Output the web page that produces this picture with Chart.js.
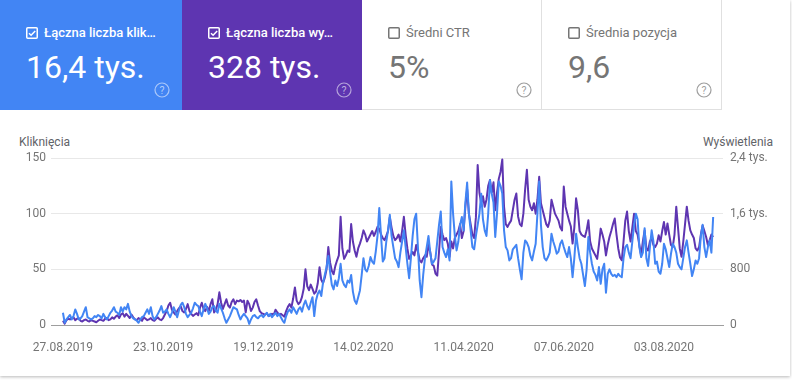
<!DOCTYPE html>
<html><head><meta charset="utf-8">
<script src="https://cdn.jsdelivr.net/npm/chart.js@4/dist/chart.umd.min.js"></script>
<style>
html,body{margin:0;padding:0;background:#fff;width:792px;height:380px;overflow:hidden;font-family:Roboto,"Noto Sans",Arial,sans-serif;}
#card{position:absolute;left:0;top:0;width:790px;height:376px;background:#fff;box-shadow:0 1px 3px rgba(0,0,0,.28);}
.tile{position:absolute;top:0;height:110px;box-sizing:border-box;}
.t1{left:0;width:182px;background:#4285f4;color:#fff;}
.t2{left:182px;width:180px;background:#5e35b1;color:#fff;}
.t3{left:362px;width:180px;border-right:1px solid #e0e0e0;border-bottom:1px solid #e0e0e0;color:#757575;}
.t4{left:542px;width:180px;border-right:1px solid #e0e0e0;border-bottom:1px solid #e0e0e0;color:#757575;}
.cb{position:absolute;left:26px;top:27px;}
.hd{position:absolute;left:44px;top:24px;font-size:13px;line-height:18px;white-space:nowrap;}
.t1 .hd,.t2 .hd{font-weight:500;}
.num{position:absolute;left:26px;top:51px;font-size:32px;line-height:32px;white-space:nowrap;}
.t3 .num,.t4 .num{color:#757575;}
.help{position:absolute;left:152px;top:80px;}
.axt{position:absolute;top:134px;font-size:12px;line-height:16px;color:#5f6368;}
canvas{position:absolute;left:0;top:116px;}
</style></head>
<body>
<div id="card">
  <div class="tile t1">
    <svg class="cb" width="12" height="12"><rect x="0.75" y="0.75" width="10.5" height="10.5" rx="1" fill="none" stroke="#fff" stroke-width="1.5"/><path d="M3 6.2 L5.1 8.2 L9.2 3.9" fill="none" stroke="#fff" stroke-width="1.5"/></svg>
    <div class="hd" id="h1"></div>
    <div class="num" id="n1"></div>
    <svg class="help" width="20" height="20"><circle cx="10" cy="10" r="7" fill="none" stroke="rgba(255,255,255,0.55)" stroke-width="1.2"/><text x="10" y="13.6" text-anchor="middle" font-size="10.5" font-family="Roboto" fill="rgba(255,255,255,0.6)">?</text></svg>
  </div>
  <div class="tile t2">
    <svg class="cb" width="12" height="12"><rect x="0.75" y="0.75" width="10.5" height="10.5" rx="1" fill="none" stroke="#fff" stroke-width="1.5"/><path d="M3 6.2 L5.1 8.2 L9.2 3.9" fill="none" stroke="#fff" stroke-width="1.5"/></svg>
    <div class="hd" id="h2"></div>
    <div class="num" id="n2"></div>
    <svg class="help" width="20" height="20"><circle cx="10" cy="10" r="7" fill="none" stroke="rgba(255,255,255,0.55)" stroke-width="1.2"/><text x="10" y="13.6" text-anchor="middle" font-size="10.5" font-family="Roboto" fill="rgba(255,255,255,0.6)">?</text></svg>
  </div>
  <div class="tile t3">
    <svg class="cb" width="12" height="12"><rect x="0.75" y="0.75" width="10.5" height="10.5" rx="1" fill="none" stroke="#757575" stroke-width="1.5"/></svg>
    <div class="hd" id="h3"></div>
    <div class="num" id="n3"></div>
    <svg class="help" width="20" height="20"><circle cx="10" cy="10" r="7" fill="none" stroke="#9e9e9e" stroke-width="1.2"/><text x="10" y="13.6" text-anchor="middle" font-size="10.5" font-family="Roboto" fill="#9e9e9e">?</text></svg>
  </div>
  <div class="tile t4">
    <svg class="cb" width="12" height="12"><rect x="0.75" y="0.75" width="10.5" height="10.5" rx="1" fill="none" stroke="#757575" stroke-width="1.5"/></svg>
    <div class="hd" id="h4"></div>
    <div class="num" id="n4"></div>
    <svg class="help" width="20" height="20"><circle cx="10" cy="10" r="7" fill="none" stroke="#9e9e9e" stroke-width="1.2"/><text x="10" y="13.6" text-anchor="middle" font-size="10.5" font-family="Roboto" fill="#9e9e9e">?</text></svg>
  </div>
  <div class="axt" id="axL" style="left:19px;"></div>
  <div class="axt" id="axR" style="right:17px;text-align:right;"></div>
</div>
<canvas id="c" width="792" height="260"></canvas>
<script>
// ---- data ----
const metricTitles = ["Łączna liczba klik…", "Łączna liczba wy…", "Średni CTR", "Średnia pozycja"];
const metricValues = ["16,4 tys.", "328 tys.", "5%", "9,6"];
const axisTitles = ["Kliknięcia", "Wyświetlenia"];
const dateLabels = ["27.08.2019","23.10.2019","19.12.2019","14.02.2020","11.04.2020","07.06.2020","03.08.2020"];
const dateTickDays = [0,57,114,171,228,285,342];
const leftTicks = [0,50,100,150];
const rightTicks = [0,800,1600,2400];
const rightTickLabels = ["0","800","1,6 tys.","2,4 tys."];

// daily clicks, from 27.08.2019
const clicks = [
11,2,5,7,9,5,8,14,10,5,
6,8,12,16,7,6,5,6,8,7,
9,8,6,10,7,5,8,11,13,16,
12,11,9,16,12,16,14,19,12,8,
6,5,4,2,5,7,8,11,14,10,
16,8,5,7,10,13,17,11,12,14,
10,7,11,16,12,7,13,18,20,16,
10,7,9,11,15,20,18,17,12,8,
14,19,15,10,12,16,17,13,11,19,
15,11,6,2,5,8,12,16,15,14,
9,5,8,10,8,6,1,5,8,9,
7,6,8,9,7,9,11,8,10,7,
9,11,8,10,7,4,2,8,12,14,
11,16,13,10,14,16,12,18,22,17,
14,20,25,8,22,28,31,26,38,45,
52,62,48,36,32,40,35,42,55,40,
36,34,40,38,45,30,22,19,25,31,
45,60,50,48,53,61,57,55,66,80,
105,80,57,60,75,85,99,80,70,60,
57,52,65,75,85,70,55,42,60,80,
95,100,70,40,25,45,60,70,80,65,
55,57,60,75,90,102,70,65,61,68,
58,129,100,80,67,75,90,97,85,110,
128,100,85,70,68,80,90,100,118,95,
85,80,100,130,118,110,79,100,129,125,
118,85,70,67,58,60,68,70,72,60,
50,41,65,76,74,70,62,58,66,73,
100,129,90,70,60,58,61,65,82,75,
70,64,66,73,76,70,65,61,70,60,
43,60,82,70,60,55,45,35,50,79,
65,55,48,45,40,52,37,50,55,29,
46,50,46,44,45,43,46,44,43,60,
70,72,65,60,75,90,100,95,70,61,
65,87,60,53,70,85,75,55,57,48,
46,55,73,68,60,52,64,73,70,65,
55,52,50,60,70,76,65,55,44,50,
58,55,60,80,90,70,61,70,76,65,
97];

// daily impressions
const impressions = [
60,20,70,90,80,100,110,70,90,100,
60,50,70,80,60,50,70,60,50,40,
60,80,70,60,90,100,70,80,110,90,
120,140,100,150,170,120,160,130,100,150,
110,80,70,100,80,60,110,90,70,80,
100,70,60,90,110,80,70,100,150,200,
280,320,220,180,150,200,240,270,200,180,
230,300,200,160,130,150,170,140,250,320,
230,200,260,200,300,370,180,220,300,470,
320,230,300,370,280,250,330,370,300,350,
340,360,330,350,180,350,300,200,250,330,
370,280,200,170,160,150,170,130,140,160,
150,220,180,150,160,140,120,200,260,300,
250,380,540,350,300,330,400,520,800,560,
500,580,520,450,480,600,830,650,600,680,
800,1120,900,780,730,850,930,1000,1555,1100,
950,1000,1070,1050,1450,1200,1070,980,1100,1170,
1250,1360,1300,1200,1250,1300,1350,1280,1340,1410,
1380,1300,1250,1220,1280,1350,1550,1400,1280,1220,
1250,1300,1200,1350,1555,1300,1100,950,1000,1050,
1000,1150,1050,930,900,960,1000,980,1150,1050,
870,850,740,710,1050,1410,1300,1220,1250,1170,
980,1200,1100,1250,1300,1350,1450,1250,1350,1700,
1950,1600,1450,1300,1250,1550,2300,1900,1750,1850,
1700,1800,2000,2085,1900,2050,1650,1900,2100,2200,
2380,1700,1450,1410,1460,1500,1650,1800,1890,1560,
1450,1420,1600,1950,2230,1800,1700,1650,1750,1600,
1800,2130,1750,1650,1550,1450,1410,1500,1800,1700,
1600,1550,1500,1400,1360,1990,1700,1600,1500,1420,
1170,1400,1820,1650,1350,1300,1280,1265,1360,1505,
1200,1100,1050,1000,950,1150,1385,1300,1200,1000,
1150,1265,1350,1450,1530,1300,1100,970,930,1200,
1500,1630,1350,1200,1400,1600,1350,1300,1150,1000,
1200,1360,1100,1070,1200,1250,1150,1120,1170,1290,
1200,1350,1480,1300,1460,1300,1150,1120,1300,1700,
1400,1100,980,1200,1450,1700,1500,1360,1300,1250,
1100,1070,1120,1300,1430,1350,1265,1150,1217,1300,
1265];

// ---- text ----
["h1","h2","h3","h4"].forEach((id,i)=>document.getElementById(id).textContent=metricTitles[i]);
["n1","n2","n3","n4"].forEach((id,i)=>document.getElementById(id).textContent=metricValues[i]);
document.getElementById("axL").textContent = axisTitles[0];
document.getElementById("axR").textContent = axisTitles[1];

// ---- chart ----
const dayIdx = clicks.map((_,i)=>i);
const tickFont = {family:"Roboto", size:12};
new Chart(document.getElementById("c"), {
  type: "line",
  data: {
    labels: dayIdx,
    datasets: [
      {label:"Wyświetlenia", data: impressions, yAxisID:"y1", borderColor:"#5e35b1", borderWidth:2, pointRadius:0, tension:0, borderJoinStyle:"round", order:2},
      {label:"Kliknięcia", data: clicks, yAxisID:"y", borderColor:"#4285f4", borderWidth:2, pointRadius:0, tension:0, borderJoinStyle:"round", order:1}
    ]
  },
  options: {
    responsive:false, animation:false, devicePixelRatio:1,
    layout:{padding:{top:42,left:0,right:0,bottom:0}},
    plugins:{legend:{display:false}, tooltip:{enabled:false}},
    scales:{
      x:{type:"linear", min:-6.8, max:375.6,
         grid:{display:false, drawTicks:false},
         border:{display:true, color:"#9e9e9e", width:1},
         afterBuildTicks:(s)=>{ s.ticks = dateTickDays.map(v=>({value:v})); },
         afterFit:(s)=>{ s.height = 51; },
         ticks:{autoSkip:false, maxRotation:0, padding:16, color:"#757575", font:tickFont,
                callback:(v)=>dateLabels[dateTickDays.indexOf(v)]}},
      y:{position:"left", min:0, max:150,
         grid:{color:(c)=>c.tick && c.tick.value===0 ? "#9e9e9e" : "#e8e8e8", drawTicks:false},
         border:{display:false},
         afterBuildTicks:(s)=>{ s.ticks = leftTicks.map(v=>({value:v})); },
         afterFit:(s)=>{ s.width = 51; },
         ticks:{padding:5, color:"#757575", font:tickFont}},
      y1:{position:"right", min:0, max:2400,
         grid:{display:false, drawTicks:false},
         border:{display:false},
         afterBuildTicks:(s)=>{ s.ticks = rightTicks.map(v=>({value:v})); },
         afterFit:(s)=>{ s.width = 69; },
         ticks:{padding:7, color:"#757575", font:tickFont,
                callback:(v)=>rightTickLabels[rightTicks.indexOf(v)]}}
    }
  }
});
</script>
</body></html>
